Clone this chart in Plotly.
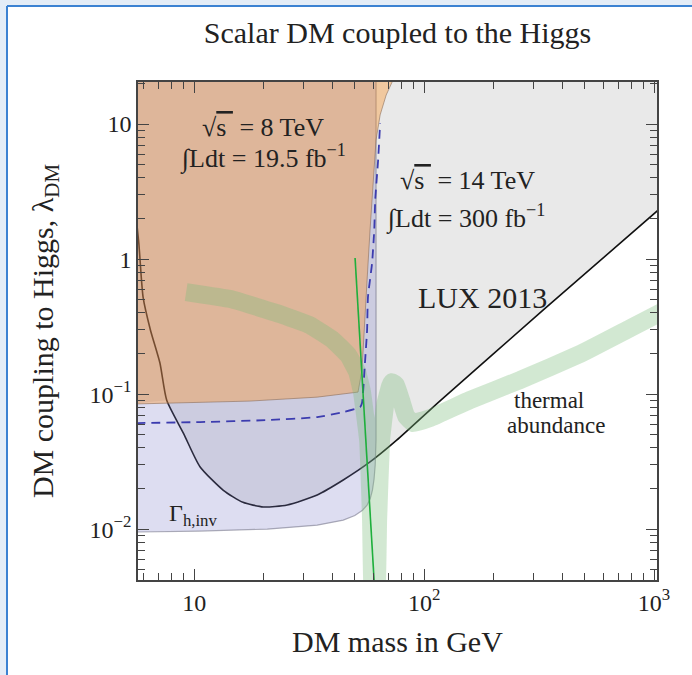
import numpy as np
import plotly.graph_objects as go

# ---- data (DM mass in GeV, coupling lambda_DM) ----
# LUX 2013 direct-detection bound
lux_mass = [5.6, 5.75, 6.0, 6.45, 7.1, 7.6, 9.0, 10.6, 13.4, 16.3, 20.0, 25.4, 34.3, 44.5, 58, 76, 118, 330, 1040]
lux_lam = [2.0, 1.3, 0.52, 0.30, 0.17, 0.090, 0.051, 0.029, 0.0194, 0.0158, 0.0146, 0.0151, 0.0179, 0.0231,
           0.0313, 0.0456, 0.090, 0.42, 2.3]

# Invisible Higgs width region (Gamma_h,inv)
gam_mass = [5.2, 10.6, 20.8, 34.3, 44.5, 50.0, 54.0, 56.5, 58.3, 59.6, 60.6, 61.3, 61.8, 61.8, 5.2]
gam_lam = [0.0095, 0.00967, 0.0100, 0.0107, 0.01166, 0.0126, 0.0138, 0.01506, 0.0168, 0.0194, 0.0235,
           0.0300, 0.0456, 30, 30]

# 8 TeV, 19.5 fb^-1 exclusion
tev8_mass = [5.2, 17.5, 34.3, 46.2, 51.6, 53.7, 54.8, 56.5, 58.2, 60.0, 61.8, 64.4, 68.4, 72.6, 75.6, 5.2]
tev8_lam = [0.0843, 0.0888, 0.095, 0.1017, 0.1035, 0.151, 0.298, 0.699, 1.64, 3.85, 7.61, 11.7, 16.4, 20.5,
            25.1, 25.1]

# 14 TeV, 300 fb^-1 projection
tev14_mass = [5.6, 10.6, 20.8, 34.3, 44.5, 52.7, 53.7, 55.3, 56.5, 57.0, 59.4, 60.7, 61.3, 63.1, 64.4]
tev14_lam = [0.061, 0.0621, 0.0642, 0.0676, 0.0736, 0.0801, 0.0858, 0.170, 0.298, 0.523, 0.934, 1.64, 2.74,
             5.4, 10.2]

# Thermal abundance band (centre line)
th_mass = [9.23, 14.4, 23.7, 31.9, 40.2, 46.7, 51.2, 53.7, 57.1, 58.8, 60.0, 61.8, 63.1, 65.0, 67.7, 71.1,
           72.6, 75.5, 79.4, 83.5, 89.5, 106, 158, 261, 476, 787, 1117]
th_lam = [0.570, 0.506, 0.391, 0.324, 0.251, 0.195, 0.146, 0.1035, 0.0456, 0.01166, 0.00298, 0.00298,
          0.01166, 0.0456, 0.0829, 0.1146, 0.1227, 0.1166, 0.0903, 0.0687, 0.061, 0.0664, 0.0903, 0.127,
          0.198, 0.308, 0.419]

# Higgs resonance line
res_mass = [50.1, 60.7]
res_lam = [1.02, 0.004]

# axis ticks
x_major = [10, 100, 1000]
x_major_text = ["10", "10<sup>2</sup>", "10<sup>3</sup>"]
x_minor = [6, 7, 8, 9, 20, 30, 40, 50, 60, 70, 80, 90, 200, 300, 400, 500, 600, 700, 800, 900]
y_major = [0.01, 0.1, 1, 10]
y_major_text = ["10<sup>\u22122</sup>", "10<sup>\u22121</sup>", "1", "10"]
y_minor = [0.005, 0.006, 0.007, 0.008, 0.009, 0.02, 0.03, 0.04, 0.05, 0.06, 0.07, 0.08, 0.09,
           0.2, 0.3, 0.4, 0.5, 0.6, 0.7, 0.8, 0.9, 2, 3, 4, 5, 6, 7, 8, 9, 20]

SERIF = "Liberation Serif"
INK = "#222222"

fig = go.Figure()

# grey excluded region above the LUX bound (under the collider regions on the left)
grey_mass = [5.0] + lux_mass[5:] + [1200, 1200, 5.0]
grey_lam = [0.0843] + lux_lam[5:] + [2.3, 40, 40]
fig.add_trace(go.Scatter(x=grey_mass, y=grey_lam, fill="toself", fillcolor="rgb(233,233,233)",
                         line=dict(width=0), mode="lines", hoverinfo="skip"))

# LUX bound line (drawn beneath the collider regions)
fig.add_trace(go.Scatter(x=lux_mass, y=lux_lam, mode="lines",
                         line=dict(color="#111111", width=1.6, shape="spline", smoothing=0.6), hoverinfo="skip"))

# Gamma_h,inv region
fig.add_trace(go.Scatter(x=gam_mass, y=gam_lam, fill="toself", fillcolor="rgba(120,120,200,0.25)",
                         mode="lines", line=dict(width=1.2, color="rgba(110,110,130,0.55)"), hoverinfo="skip"))

# 8 TeV region
fig.add_trace(go.Scatter(x=tev8_mass, y=tev8_lam, fill="toself", fillcolor="rgba(255,139,24,0.35)",
                         mode="lines", line=dict(width=1, color="rgba(140,110,90,0.6)"), hoverinfo="skip"))

# thermal abundance band
fig.add_trace(go.Scatter(x=th_mass, y=th_lam, mode="lines",
                         line=dict(color="rgba(123,187,123,0.34)", width=18, shape="spline", smoothing=0.25),
                         hoverinfo="skip"))

# 14 TeV projection
fig.add_trace(go.Scatter(x=tev14_mass, y=tev14_lam, mode="lines",
                         line=dict(color="rgb(60,60,175)", width=1.8, dash="9px,6px", shape="spline",
                                   smoothing=0.5), hoverinfo="skip"))

# resonance line
fig.add_trace(go.Scatter(x=res_mass, y=res_lam, mode="lines",
                         line=dict(color="rgb(30,175,60)", width=1.6), hoverinfo="skip"))

axis_common = dict(
    type="log", showgrid=False, zeroline=False, showline=True, linecolor="#444444", linewidth=1.5,
    mirror="ticks", ticks="inside", ticklen=11, tickwidth=1.4, tickcolor="#444444",
    tickfont=dict(family=SERIF, size=24, color=INK), tickmode="array",
)

fig.update_xaxes(**axis_common, tickvals=x_major, ticktext=x_major_text,
                 range=[np.log10(5.7), np.log10(1030)],
                 minor=dict(tickmode="array", tickvals=x_minor, ticks="inside", ticklen=7,
                            tickwidth=1.2, tickcolor="#444444", showgrid=False))
fig.update_yaxes(**axis_common, tickvals=y_major, ticktext=y_major_text,
                 range=[np.log10(0.0042), np.log10(20.5)],
                 minor=dict(tickmode="array", tickvals=y_minor, ticks="inside", ticklen=7,
                            tickwidth=1.2, tickcolor="#444444", showgrid=False))


def note(text, m, lam, size=26, **kw):
    fig.add_annotation(x=np.log10(m), y=np.log10(lam), xref="x", yref="y", text=text, showarrow=False,
                       font=dict(family=SERIF, size=size, color=INK), **kw)


ROOT_S = "\u221a<span style='text-decoration:overline'>s\u00a0</span>"
note(ROOT_S + " = 8 TeV", 20, 9.5)
note("\u222bLdt = 19.5 fb<sup>\u22121</sup>", 20, 5.7)
note(ROOT_S + " = 14 TeV", 154, 3.85)
note("\u222bLdt = 300 fb<sup>\u22121</sup>", 152, 2.05)
note("LUX 2013", 179, 0.523, size=30)
note("thermal", 349, 0.089, size=23)
note("abundance", 375, 0.059, size=23)
note("\u0393<sub>h,inv</sub>", 9.9, 0.0127, size=24)

# axis titles
fig.add_annotation(x=0.5, y=-0.124, xref="paper", yref="paper", text="DM mass in GeV", showarrow=False,
                   font=dict(family=SERIF, size=30, color=INK), yanchor="middle")
fig.add_annotation(x=-0.179, y=0.5, xref="paper", yref="paper", text="DM coupling to Higgs, \u03bb<sub>DM</sub>",
                   showarrow=False, textangle=-90, font=dict(family=SERIF, size=30, color=INK),
                   xanchor="center", yanchor="middle")

# page frame (light blue strip with border line on top and left)
W, H, L, R, T, B = 692, 675, 138, 35, 82, 95
pw, ph = W - L - R, H - T - B


def px_x(p):
    return (p - L) / pw


def px_y(p):
    return (H - B - p) / ph


fig.add_shape(type="rect", xref="paper", yref="paper", x0=px_x(0), x1=px_x(7), y0=px_y(H), y1=px_y(0),
              fillcolor="#e4edf7", line=dict(width=0), layer="below")
fig.add_shape(type="rect", xref="paper", yref="paper", x0=px_x(0), x1=px_x(W), y0=px_y(6), y1=px_y(0),
              fillcolor="#e4edf7", line=dict(width=0), layer="below")
fig.add_shape(type="line", xref="paper", yref="paper", x0=px_x(7), x1=px_x(7), y0=px_y(H), y1=px_y(6),
              line=dict(color="#3c82d2", width=2))
fig.add_shape(type="line", xref="paper", yref="paper", x0=px_x(7), x1=px_x(W), y0=px_y(6), y1=px_y(6),
              line=dict(color="#3c82d2", width=2))

fig.update_layout(
    width=W, height=H, margin=dict(l=L, r=R, t=T, b=B),
    paper_bgcolor="white", plot_bgcolor="white", showlegend=False,
    title=dict(text="Scalar DM coupled to the Higgs", x=0.5, xanchor="center", xref="paper",
               y=1 - 32 / H, yanchor="middle", yref="container",
               font=dict(family=SERIF, size=30, color=INK)),
)

fig.write_html("out.html")
